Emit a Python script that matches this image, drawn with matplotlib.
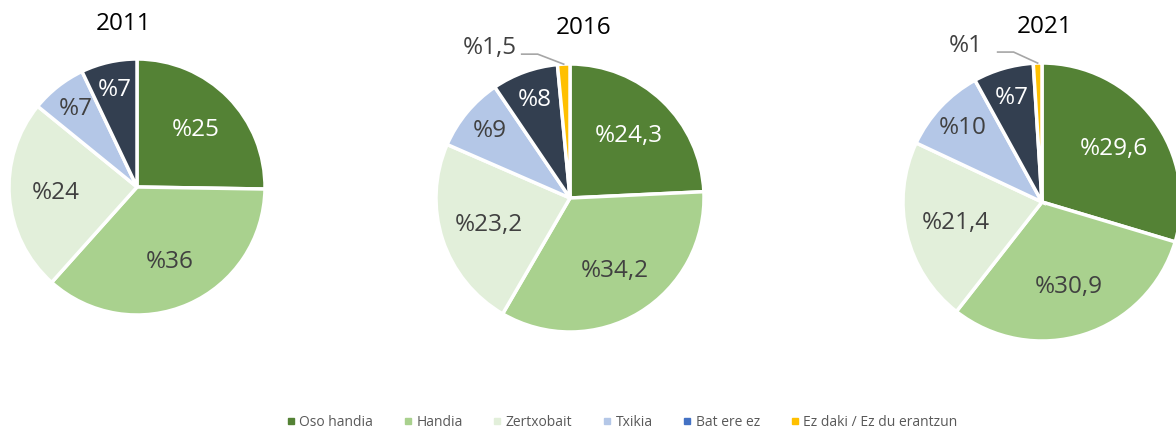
import matplotlib
matplotlib.use("Agg")
import matplotlib.pyplot as plt
from matplotlib.lines import Line2D
import numpy as np

categories = ["Oso handia", "Handia", "Zertxobait", "Txikia", "Bat ere ez", "Ez daki / Ez du erantzun"]
years = ["2011", "2016", "2021"]
values_2011 = [25, 36, 24, 7, 7]
values_2016 = [24.3, 34.2, 23.2, 9, 8, 1.5]
values_2021 = [29.6, 30.9, 21.4, 10, 7, 1]
labels_2011 = ["%25", "%36", "%24", "%7", "%7"]
labels_2016 = ["%24,3", "%34,2", "%23,2", "%9", "%8", "%1,5"]
labels_2021 = ["%29,6", "%30,9", "%21,4", "%10", "%7", "%1"]

colors = ["#548235", "#A9D18E", "#E2EFDA", "#B4C7E7", "#333F50", "#FFC000"]
legend_colors = ["#548235", "#A9D18E", "#E2EFDA", "#B4C7E7", "#4472C4", "#FFC000"]
text_colors = ["white", "#404040", "#404040", "#404040", "white", "#404040"]

W, H = 1176, 432
fig = plt.figure(figsize=(W / 100, H / 100), dpi=100)
ax = fig.add_axes([0, 0, 1, 1])

# pie placement in pixel coords (x, y from top, radius)
layout = [(137, 187, 128), (570, 198, 134), (1042, 202, 139)]
title_pos = [(124, 24), (584, 28), (1045, 27)]
# leader label offsets for the tiny slice (text centre relative to wedge edge point)
small_offsets = {1: (-74, -16), 2: (-72, -17)}

font = "Open Sans"
fs_label = 17.5

data = [(values_2011, labels_2011), (values_2016, labels_2016), (values_2021, labels_2021)]
for i, (vals, labs) in enumerate(data):
    cx, cy, r = layout[i]
    n = len(vals)
    wedges, _ = ax.pie(vals, colors=colors[:n], startangle=90, counterclock=False,
                       radius=r, center=(cx, H - cy),
                       wedgeprops=dict(edgecolor="white", linewidth=2.5))
    tot = sum(vals)
    for j, w in enumerate(wedges):
        mid = np.deg2rad((w.theta1 + w.theta2) / 2)
        share = vals[j] / tot * 100
        if share < 3:
            ex = cx + r * np.cos(mid)
            ey = cy - r * np.sin(mid)
            ox, oy = small_offsets[i]
            tx, ty = ex + ox, ey + oy
            ax.plot([ex, tx + 48, tx + 32], [H - ey, H - (ty + 6), H - (ty + 6)],
                    color="#A6A6A6", lw=1.2)
            ax.text(tx, H - ty, labs[j], ha="center", va="center", fontsize=fs_label,
                    color="#404040", family=font)
            continue
        d = 0.78 if share < 12 else 0.64
        tx = cx + d * r * np.cos(mid)
        ty = cy - d * r * np.sin(mid)
        ax.text(tx, H - ty, labs[j], ha="center", va="center", fontsize=fs_label,
                color=text_colors[j], family=font)
    ax.text(title_pos[i][0], H - title_pos[i][1], years[i], ha="center", va="center",
            fontsize=17.5, color="black", family=font)

ax.set_xlim(0, W)
ax.set_ylim(0, H)
ax.set_aspect("equal")
ax.axis("off")

handles = [Line2D([], [], marker="s", linestyle="none", markersize=4.5,
                  markerfacecolor=c, markeredgecolor=c) for c in legend_colors]
fig.legend(handles, categories, loc="center", bbox_to_anchor=(622 / W, 1 - 422 / H),
           ncol=6, frameon=False, handlelength=0.6, handletextpad=0.3,
           columnspacing=2.2, prop={"family": font, "size": 10},
           labelcolor="#595959")

fig.savefig("out.png", dpi=100)
